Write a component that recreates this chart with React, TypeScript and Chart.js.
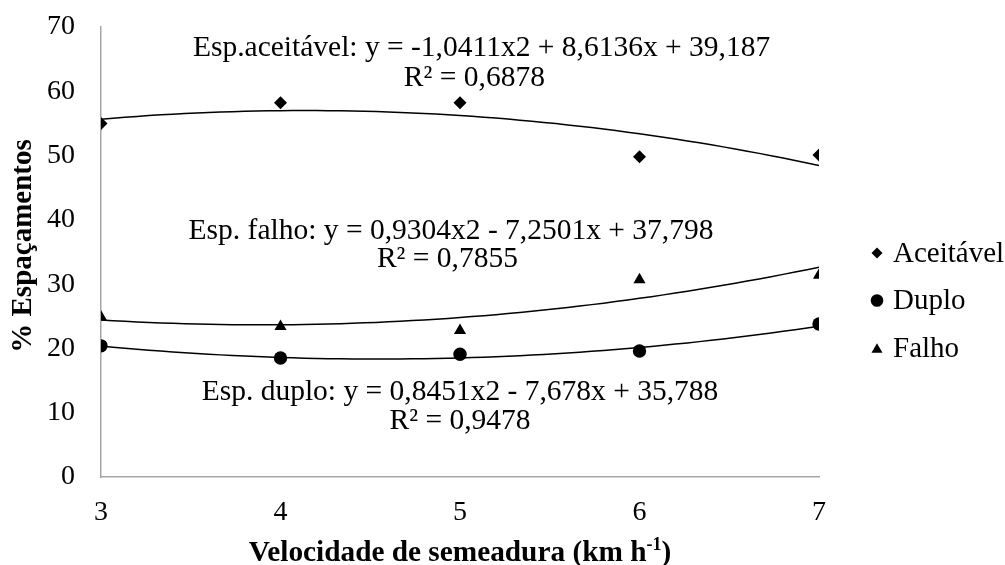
import React, { useEffect, useRef } from 'react';
import { Chart, registerables } from 'chart.js';

Chart.register(...registerables);

const FONT = "'Liberation Serif', 'Times New Roman', serif";

// Data
const velocidades = [3, 4, 5, 6, 7];
const aceitavel = [55.0, 58.2, 58.2, 49.8, 50.1];
const duplo = [20.4, 18.5, 19.1, 19.6, 23.8];
const falho = [24.9, 23.4, 22.8, 30.7, 31.4];

// Quadratic trendline coefficients shown on the chart (a, b, c for ax² + bx + c)
const coefAceitavel = [-1.0411, 8.6136, 39.187];
const coefDuplo = [0.8451, -7.678, 35.788];
const coefFalho = [0.9304, -7.2501, 37.798];

const seriesNames = ['Aceitável', 'Duplo', 'Falho'];
const seriesStyles = ['rectRot', 'circle', 'triangle'];

const equationLines = [
  'Esp.aceitável: y = -1,0411x2 + 8,6136x + 39,187',
  'R² = 0,6878',
  'Esp. falho: y = 0,9304x2 - 7,2501x + 37,798',
  'R² = 0,7855',
  'Esp. duplo: y = 0,8451x2 - 7,678x + 35,788',
  'R² = 0,9478',
];
// anchor (in data units) of each equation line
const equationX = [5.12, 5.08, 4.95, 4.93, 5.0, 5.0];
const equationY = [66.7, 62.05, 38.26, 33.9, 13.2, 8.7];

const xTitle = 'Velocidade de semeadura (km h';
const xTitleSup = '-1';
const xTitleEnd = ')';
const yTitle = '% Espaçamentos';

function trend(coef: number[]) {
  const pts: { x: number; y: number }[] = [];
  const n = 60;
  const x0 = velocidades[0];
  const x1 = velocidades[velocidades.length - 1];
  for (let i = 0; i <= n; i++) {
    const x = x0 + ((x1 - x0) * i) / n;
    pts.push({ x, y: coef[0] * x * x + coef[1] * x + coef[2] });
  }
  return pts;
}

function marker(ctx: CanvasRenderingContext2D, style: string, x: number, y: number) {
  ctx.beginPath();
  if (style === 'rectRot') {
    const r = 5.5;
    ctx.moveTo(x, y - r);
    ctx.lineTo(x + r, y);
    ctx.lineTo(x, y + r);
    ctx.lineTo(x - r, y);
    ctx.closePath();
  } else if (style === 'circle') {
    ctx.arc(x, y, 6.3, 0, Math.PI * 2);
  } else {
    const s = 11;
    const h = (s * Math.sqrt(3)) / 2;
    ctx.moveTo(x, y - h / 2);
    ctx.lineTo(x + s / 2, y + h / 2);
    ctx.lineTo(x - s / 2, y + h / 2);
    ctx.closePath();
  }
  ctx.fill();
}

const textPlugin = {
  id: 'textPlugin',
  afterDraw(chart: any) {
    const { ctx, scales, chartArea } = chart;
    const xs = scales.x;
    const ys = scales.y;
    ctx.save();
    ctx.fillStyle = '#000';
    ctx.textAlign = 'center';
    ctx.textBaseline = 'middle';
    ctx.font = `29.5px ${FONT}`;
    equationLines.forEach((t, i) => {
      ctx.fillText(t, xs.getPixelForValue(equationX[i]), ys.getPixelForValue(equationY[i]));
    });

    // legend
    const midY = (chartArea.top + chartArea.bottom) / 2;
    ctx.font = `29px ${FONT}`;
    ctx.textAlign = 'left';
    seriesNames.forEach((name, i) => {
      const cy = midY + 1 + i * 47.5;
      marker(ctx, seriesStyles[i], chartArea.right + 58, cy);
      ctx.fillText(name, chartArea.right + 74, cy + 1);
    });

    // x title with superscript
    ctx.font = `bold 29.3px ${FONT}`;
    const w1 = ctx.measureText(xTitle).width;
    const w3 = ctx.measureText(xTitleEnd).width;
    ctx.font = `bold 18px ${FONT}`;
    const w2 = ctx.measureText(xTitleSup).width;
    const total = w1 + w2 + w3;
    const cx = (chartArea.left + chartArea.right) / 2;
    let sx = cx - total / 2;
    const base = 561;
    ctx.textBaseline = 'alphabetic';
    ctx.font = `bold 29.3px ${FONT}`;
    ctx.fillText(xTitle, sx, base);
    sx += w1;
    ctx.font = `bold 18px ${FONT}`;
    ctx.fillText(xTitleSup, sx, base - 11);
    sx += w2;
    ctx.font = `bold 29.3px ${FONT}`;
    ctx.fillText(xTitleEnd, sx, base);

    // y title
    ctx.translate(24, 246);
    ctx.rotate(-Math.PI / 2);
    ctx.textAlign = 'center';
    ctx.textBaseline = 'middle';
    ctx.font = `bold 29px ${FONT}`;
    ctx.fillText(yTitle, 0, 0);
    ctx.restore();
  },
};

export default function App() {
  const ref = useRef<HTMLCanvasElement>(null);

  useEffect(() => {
    if (!ref.current) return;
    const mk = (label: string, data: number[], style: string, radius: number) => ({
      type: 'scatter' as const,
      label,
      data: velocidades.map((v, i) => ({ x: v, y: data[i] })),
      pointStyle: style,
      pointRadius: radius,
      pointHoverRadius: radius,
      backgroundColor: '#000',
      borderColor: '#000',
      borderWidth: 0,
      showLine: false,
    });
    const tl = (label: string, coef: number[]) => ({
      type: 'line' as const,
      label,
      data: trend(coef),
      borderColor: '#000',
      borderWidth: 1.5,
      pointRadius: 0,
      fill: false,
      tension: 0,
    });
    const chart = new Chart(ref.current, {
      type: 'scatter',
      data: {
        datasets: [
          mk(seriesNames[0], aceitavel, seriesStyles[0], 6.5),
          mk(seriesNames[1], duplo, seriesStyles[1], 6.7),
          mk(seriesNames[2], falho, seriesStyles[2], 7),
          tl('trend-aceitavel', coefAceitavel),
          tl('trend-duplo', coefDuplo),
          tl('trend-falho', coefFalho),
        ] as any,
      },
      options: {
        animation: false,
        responsive: false,
        maintainAspectRatio: false,
        layout: { padding: { top: 27, left: 0, right: 186, bottom: 0 } },
        plugins: {
          legend: { display: false },
          tooltip: { enabled: false },
        },
        scales: {
          x: {
            type: 'linear',
            min: 3,
            max: 7,
            afterFit: (s: any) => {
              s.height = 88;
              s.paddingLeft = 0;
              s.paddingRight = 0;
            },
            ticks: {
              stepSize: 1,
              padding: 19,
              color: '#000',
              font: { family: FONT, size: 28 },
            },
            grid: { display: false, drawTicks: false },
            border: { color: '#a6a6a6', width: 1.5 },
          },
          y: {
            type: 'linear',
            min: 0,
            max: 70,
            afterFit: (s: any) => {
              s.width = 101;
              s.paddingTop = 0;
              s.paddingBottom = 0;
            },
            ticks: {
              stepSize: 10,
              padding: 26,
              color: '#000',
              font: { family: FONT, size: 28 },
            },
            grid: { display: false, drawTicks: false },
            border: { color: '#a6a6a6', width: 1.5 },
          },
        },
      },
      plugins: [textPlugin],
    });
    return () => chart.destroy();
  }, []);

  return (
    <div style={{ position: 'fixed', left: 0, top: 0, width: 1005, height: 565, background: '#fff' }}>
      <canvas ref={ref} width={1005} height={565} style={{ width: 1005, height: 565 }} />
    </div>
  );
}
